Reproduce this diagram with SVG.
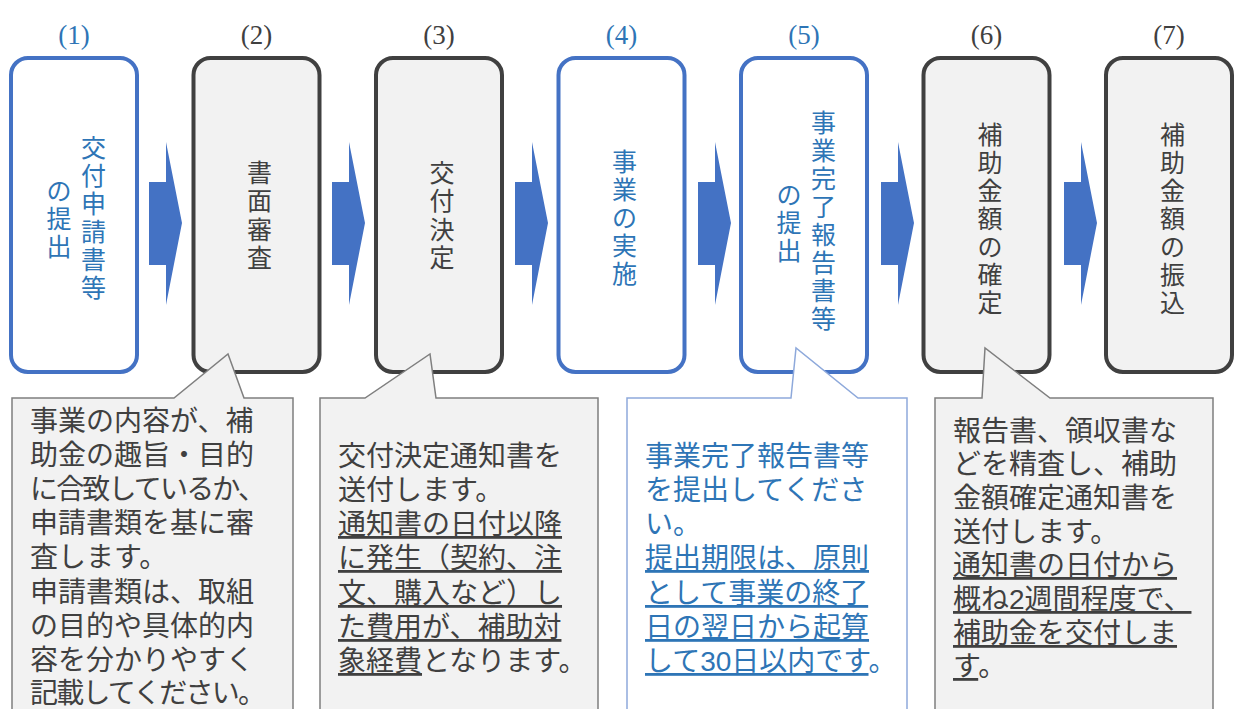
<svg xmlns="http://www.w3.org/2000/svg" width="1234" height="709" viewBox="0 0 1234 709">
<style>
.hdr{font-family:"Liberation Serif","Noto Sans CJK JP",serif;font-size:27px;text-anchor:middle}
.blue{fill:#2e75b6}
.gray{fill:#404040}
.bxb{fill:#ffffff;stroke:#4472c4;stroke-width:4}
.bxg{fill:#f2f2f2;stroke:#404040;stroke-width:4}
.vt{font-family:"Liberation Sans","Noto Sans CJK JP",sans-serif;font-size:25px;text-anchor:middle}
.co{fill:#f2f2f2;stroke:#7f7f7f;stroke-width:1.5}
.cob{fill:#ffffff;stroke:#8ea9db;stroke-width:1.5}
.ct{font-family:"Liberation Sans","Noto Sans CJK JP",sans-serif;font-size:28px}
.u{text-decoration:underline}
.arrow{fill:#4472c4}
</style>
<rect width="1234" height="709" fill="#ffffff"/>

<g id="node-1">
<text class="hdr blue" x="74" y="44">(1)</text>
<rect class="bxb" x="11" y="58" width="126" height="314" rx="17"/>
<text class="vt blue"><tspan x="93.5" y="156.5">交</tspan><tspan x="93.5" y="184.5">付</tspan><tspan x="93.5" y="212.5">申</tspan><tspan x="93.5" y="240.5">請</tspan><tspan x="93.5" y="268.5">書</tspan><tspan x="93.5" y="296.5">等</tspan></text>
<text class="vt blue"><tspan x="59" y="199.5">の</tspan><tspan x="59" y="227.5">提</tspan><tspan x="59" y="255.5">出</tspan></text>
</g>

<g id="node-2">
<text class="hdr gray" x="256.5" y="44">(2)</text>
<rect class="bxg" x="193.5" y="58" width="126" height="314" rx="17"/>
<text class="vt gray"><tspan x="259.5" y="181.75">書</tspan><tspan x="259.5" y="210.25">面</tspan><tspan x="259.5" y="238.75">審</tspan><tspan x="259.5" y="267.25">査</tspan></text>
</g>

<g id="node-3">
<text class="hdr gray" x="439" y="44">(3)</text>
<rect class="bxg" x="376" y="58" width="126" height="314" rx="17"/>
<text class="vt gray"><tspan x="442" y="181.75">交</tspan><tspan x="442" y="210.25">付</tspan><tspan x="442" y="238.75">決</tspan><tspan x="442" y="267.25">定</tspan></text>
</g>

<g id="node-4">
<text class="hdr blue" x="621.5" y="44">(4)</text>
<rect class="bxb" x="558.5" y="58" width="126" height="314" rx="17"/>
<text class="vt blue"><tspan x="624.5" y="171">事</tspan><tspan x="624.5" y="199">業</tspan><tspan x="624.5" y="227">の</tspan><tspan x="624.5" y="255">実</tspan><tspan x="624.5" y="283">施</tspan></text>
</g>

<g id="node-5">
<text class="hdr blue" x="804" y="44">(5)</text>
<rect class="bxb" x="741" y="58" width="126" height="314" rx="17"/>
<text class="vt blue"><tspan x="823.5" y="131.5">事</tspan><tspan x="823.5" y="159.5">業</tspan><tspan x="823.5" y="187.5">完</tspan><tspan x="823.5" y="215.5">了</tspan><tspan x="823.5" y="243.5">報</tspan><tspan x="823.5" y="271.5">告</tspan><tspan x="823.5" y="299.5">書</tspan><tspan x="823.5" y="327.5">等</tspan></text>
<text class="vt blue"><tspan x="789" y="204">の</tspan><tspan x="789" y="232">提</tspan><tspan x="789" y="260">出</tspan></text>
</g>

<g id="node-6">
<text class="hdr gray" x="986.5" y="44">(6)</text>
<rect class="bxg" x="923.5" y="58" width="126" height="314" rx="17"/>
<text class="vt gray"><tspan x="990" y="144">補</tspan><tspan x="990" y="172">助</tspan><tspan x="990" y="200">金</tspan><tspan x="990" y="228">額</tspan><tspan x="990" y="256">の</tspan><tspan x="990" y="284">確</tspan><tspan x="990" y="312">定</tspan></text>
</g>

<g id="node-7">
<text class="hdr gray" x="1169" y="44">(7)</text>
<rect class="bxg" x="1106" y="58" width="126" height="314" rx="17"/>
<text class="vt gray"><tspan x="1172.5" y="144">補</tspan><tspan x="1172.5" y="172">助</tspan><tspan x="1172.5" y="200">金</tspan><tspan x="1172.5" y="228">額</tspan><tspan x="1172.5" y="256">の</tspan><tspan x="1172.5" y="284">振</tspan><tspan x="1172.5" y="312">込</tspan></text>
</g>

<g id="connectors">
<polygon class="arrow" points="149,182 166,182 166,142 182,223 166,305 166,265 149,265"/>
<polygon class="arrow" points="332,182 349,182 349,142 365,223 349,305 349,265 332,265"/>
<polygon class="arrow" points="515,182 532,182 532,142 548,223 532,305 532,265 515,265"/>
<polygon class="arrow" points="698,182 715,182 715,142 731,223 715,305 715,265 698,265"/>
<polygon class="arrow" points="881,182 898,182 898,142 914,223 898,305 898,265 881,265"/>
<polygon class="arrow" points="1064,182 1081,182 1081,142 1097,223 1081,305 1081,265 1064,265"/>
</g>

<g id="callout-2">
<path class="co" d="M12,715 V398 H174 L228,354 L244,398 H293 V715 Z"/>
<text class="ct gray">
<tspan x="30" y="431">事業の内容が、補</tspan>
<tspan x="30" y="465">助金の趣旨・目的</tspan>
<tspan x="30" y="499" textLength="236">に合致しているか、</tspan>
<tspan x="30" y="533">申請書類を基に審</tspan>
<tspan x="30" y="567">査します。</tspan>
<tspan x="30" y="602">申請書類は、取組</tspan>
<tspan x="30" y="636">の目的や具体的内</tspan>
<tspan x="30" y="670">容を分かりやすく</tspan>
<tspan x="30" y="703" textLength="236">記載してください。</tspan>
</text>
</g>

<g id="callout-3">
<path class="co" d="M320,715 V398 H365 L430,354 L436,398 H598 V715 Z"/>
<text class="ct gray">
<tspan x="338" y="466">交付決定通知書を</tspan>
<tspan x="338" y="500">送付します。</tspan>
<tspan x="338" y="534" class="u">通知書の日付以降</tspan>
<tspan x="338" y="568" class="u">に発生（契約、注</tspan>
<tspan x="338" y="603" class="u">文、購入など）し</tspan>
<tspan x="338" y="637" class="u">た費用が、補助対</tspan>
<tspan x="338" y="671"><tspan class="u">象経費</tspan>となります。</tspan>
</text>
</g>

<g id="callout-5">
<path class="cob" d="M627,715 V398 H791 L796,348 L858,398 H907 V715 Z"/>
<text class="ct blue">
<tspan x="645" y="466">事業完了報告書等</tspan>
<tspan x="645" y="500">を提出してくださ</tspan>
<tspan x="645" y="534">い。</tspan>
<tspan x="645" y="568" class="u">提出期限は、原則</tspan>
<tspan x="645" y="603" class="u">として事業の終了</tspan>
<tspan x="645" y="637" class="u">日の翌日から起算</tspan>
<tspan x="645" y="671"><tspan class="u">して30日以内です</tspan>。</tspan>
</text>
</g>

<g id="callout-6">
<path class="co" d="M935,715 V398 H982 L985,348 L1050,398 H1213 V715 Z"/>
<text class="ct gray">
<tspan x="953" y="441">報告書、領収書な</tspan>
<tspan x="953" y="474">どを精査し、補助</tspan>
<tspan x="953" y="508">金額確定通知書を</tspan>
<tspan x="953" y="542">送付します。</tspan>
<tspan x="953" y="575" class="u">通知書の日付から</tspan>
<tspan x="953" y="609" class="u">概ね2週間程度で、</tspan>
<tspan x="953" y="643" class="u">補助金を交付しま</tspan>
<tspan x="953" y="676"><tspan class="u">す</tspan>。</tspan>
</text>
</g>
</svg>
